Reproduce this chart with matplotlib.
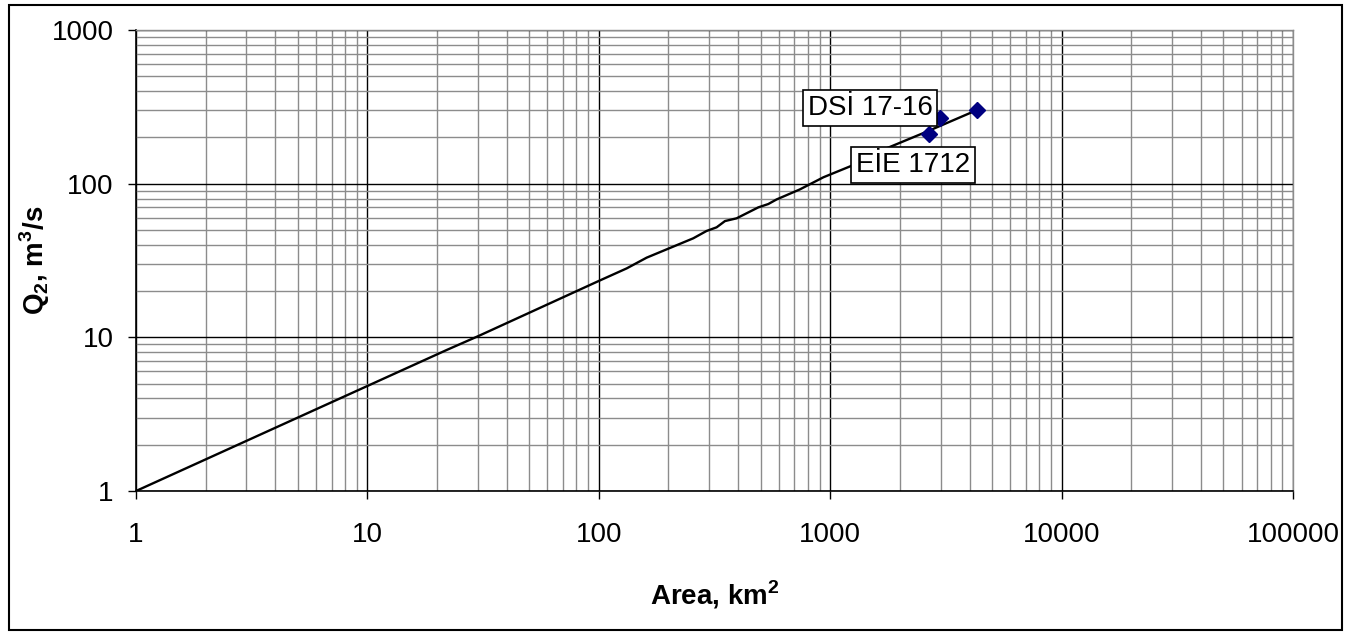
import numpy as np
from matplotlib import pyplot as plt
from matplotlib.patches import Rectangle
from matplotlib.ticker import LogLocator, NullFormatter, FixedLocator

plt.rcParams['font.family'] = ['Liberation Sans', 'DejaVu Sans']
plt.rcParams['mathtext.fontset'] = 'custom'
plt.rcParams['mathtext.rm'] = 'Liberation Sans'
plt.rcParams['mathtext.bf'] = 'Liberation Sans:bold'

# regional curve Q2 vs drainage area
area = [1, 22.0, 30.2, 99.5, 132, 161, 256, 292, 323, 351, 394, 489, 540,
        587, 649, 740, 934, 1256, 1755, 2614, 4300]
q2 = [1, 8.27, 10.2, 23.2, 28.1, 33.0, 44.1, 49.2, 52.0, 57.1, 59.5, 70.1,
      73.7, 79.0, 84.3, 91.8, 110, 132, 170, 218, 301]

# gauging stations
stn_area = [2672, 2980, 4310]
stn_q = [210, 266, 301]

xticks = [1, 10, 100, 1000, 10000, 100000]
yticks = [1, 10, 100, 1000]

fs = 20

fig = plt.figure(figsize=(13.48, 6.35), dpi=100)
ax = fig.add_axes([136/1348, 1-491/635, (1293-136)/1348, (491-30)/635])

ax.plot(area, q2, color='black', lw=1.7, zorder=4)
ax.plot(stn_area, stn_q, 'D', color='#000080', markersize=8, zorder=5)

ax.set_xscale('log')
ax.set_yscale('log')
ax.set_xlim(1, 100000)
ax.set_ylim(1, 1000)

ax.xaxis.set_major_locator(FixedLocator(xticks))
ax.yaxis.set_major_locator(FixedLocator(yticks))
ax.set_xticklabels([str(v) for v in xticks])
ax.set_yticklabels([str(v) for v in yticks])
ax.xaxis.set_minor_locator(LogLocator(base=10, subs=np.arange(2, 10), numticks=20))
ax.yaxis.set_minor_locator(LogLocator(base=10, subs=np.arange(2, 10), numticks=20))
ax.xaxis.set_minor_formatter(NullFormatter())
ax.yaxis.set_minor_formatter(NullFormatter())

ax.grid(which='minor', color='#8c8c8c', lw=1.0)
ax.grid(which='major', color='black', lw=1.0)
ax.set_axisbelow(True)

ax.tick_params(which='major', direction='out', length=6, width=1, labelsize=fs)
ax.tick_params(axis='y', which='major', pad=10)
ax.tick_params(axis='x', which='major', pad=16)
ax.tick_params(which='minor', length=0)

for s in ['left', 'bottom']:
    ax.spines[s].set_color('black')
    ax.spines[s].set_linewidth(1.2)
for s in ['top', 'right']:
    ax.spines[s].set_color('#8c8c8c')
    ax.spines[s].set_linewidth(1.0)

ax.set_xlabel('Area, km$^\\mathbf{2}$', fontsize=fs, fontweight='bold', labelpad=22)
ax.set_ylabel('Q$_\\mathbf{2}$, m$^\\mathbf{3}$/s', fontsize=fs, fontweight='bold', labelpad=0)

box = dict(boxstyle='square,pad=0.18', facecolor='white', edgecolor='black', lw=1.2)
ax.text(1486, 310, 'DSİ 17-16', fontsize=fs, ha='center', va='center', bbox=box, zorder=6)
ax.text(2280, 132, 'EİE 1712', fontsize=fs, ha='center', va='center', bbox=box, zorder=6)

# outer frame of the chart
fig.patches.append(Rectangle((9/1348, 1-630/635), (1342-9)/1348, (630-5)/635,
                             transform=fig.transFigure, fill=False,
                             edgecolor='black', lw=1.5))

fig.savefig('out.png', dpi=100)
